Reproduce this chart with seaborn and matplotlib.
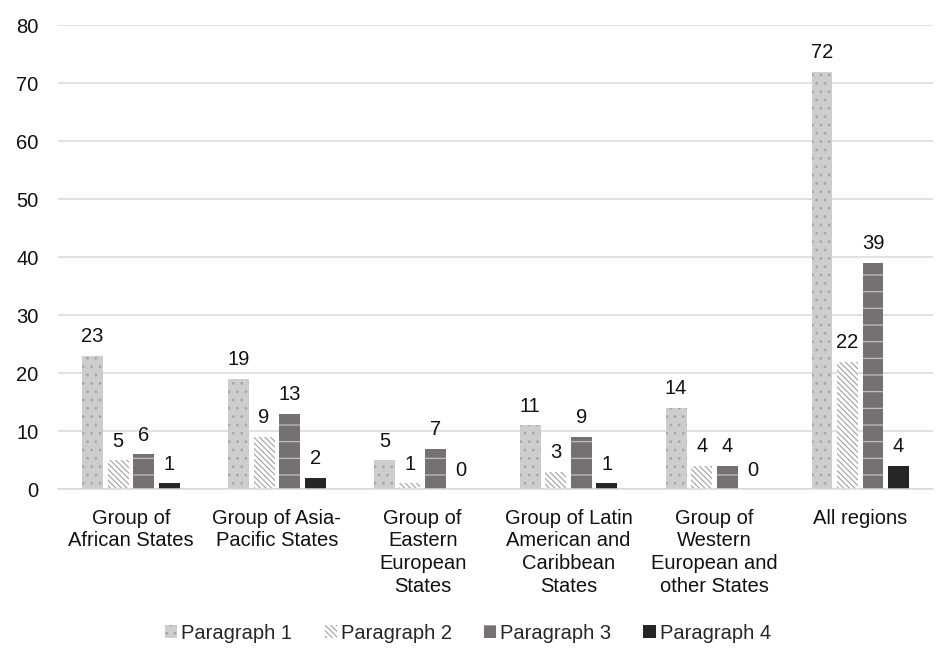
import pandas as pd
import matplotlib.pyplot as plt
import seaborn as sns
from matplotlib.patches import Patch

regions = ['Group of\nAfrican States', 'Group of Asia-\nPacific States',
           'Group of\nEastern\nEuropean\nStates', 'Group of Latin\nAmerican and\nCaribbean\nStates',
           'Group of\nWestern\nEuropean and\nother States', 'All regions']
series = ['Paragraph 1', 'Paragraph 2', 'Paragraph 3', 'Paragraph 4']
p1 = [23, 19, 5, 11, 14, 72]
p2 = [5, 9, 1, 3, 4, 22]
p3 = [6, 13, 7, 9, 4, 39]
p4 = [1, 2, 0, 1, 0, 4]

fills = ['#CDCDCD', '#FFFFFF', '#767171', '#262626']
hatch_cols = ['#A8A8A8', '#A0A0A0', '#C8C8C8', '#262626']
hatches = ['..', '\\\\\\\\\\\\', '-', '']

rows = []
for name, vals in zip(series, [p1, p2, p3, p4]):
    for r, v in zip(regions, vals):
        rows.append({'region': r, 'series': name, 'value': v})
df = pd.DataFrame(rows)

sns.set_theme(style='white')
plt.rcParams['font.family'] = ['Liberation Sans', 'DejaVu Sans']
plt.rcParams['hatch.linewidth'] = 0.8

fs = 14.5
fig = plt.figure(figsize=(9.36, 6.48), dpi=100)
ax = fig.add_axes([0.062, 0.245, 0.935, 0.716])

sns.barplot(data=df, x='region', y='value', hue='series', order=regions,
            hue_order=series, palette=fills, width=0.7, gap=0.18,
            legend=False, ax=ax)

for i, cont in enumerate(ax.containers):
    for bar in cont:
        bar.set_facecolor(fills[i])
        bar.set_edgecolor(hatch_cols[i])
        bar.set_hatch(hatches[i])
        bar.set_linewidth(0)
    ax.bar_label(cont, padding=7, fontsize=fs, color='#111111')

ax.set_ylim(0, 80)
ax.set_xlim(-0.5, 5.5)
ax.set_yticks(range(0, 81, 10))
ax.yaxis.grid(True, color='#D9D9D9', linewidth=1.1)
ax.set_axisbelow(True)
for s in ['top', 'right', 'left']:
    ax.spines[s].set_visible(False)
ax.spines['bottom'].set_color('#D9D9D9')
ax.spines['bottom'].set_linewidth(1.1)
ax.tick_params(axis='both', length=0, labelsize=fs, colors='#111111')
ax.tick_params(axis='y', pad=14)
ax.tick_params(axis='x', pad=14)
for lbl in ax.get_xticklabels():
    lbl.set_linespacing(1.25)
ax.set_xlabel('')
ax.set_ylabel('')

handles = [Patch(facecolor=fills[i], edgecolor=hatch_cols[i], hatch=hatches[i],
                 linewidth=0, label=series[i]) for i in range(4)]
fig.legend(handles=handles, loc='center', bbox_to_anchor=(0.5, 0.023), ncol=4,
           frameon=False, fontsize=fs, handlelength=0.6, handleheight=0.6,
           handletextpad=0.2, columnspacing=1.6)

fig.savefig('out.png', dpi=100)
